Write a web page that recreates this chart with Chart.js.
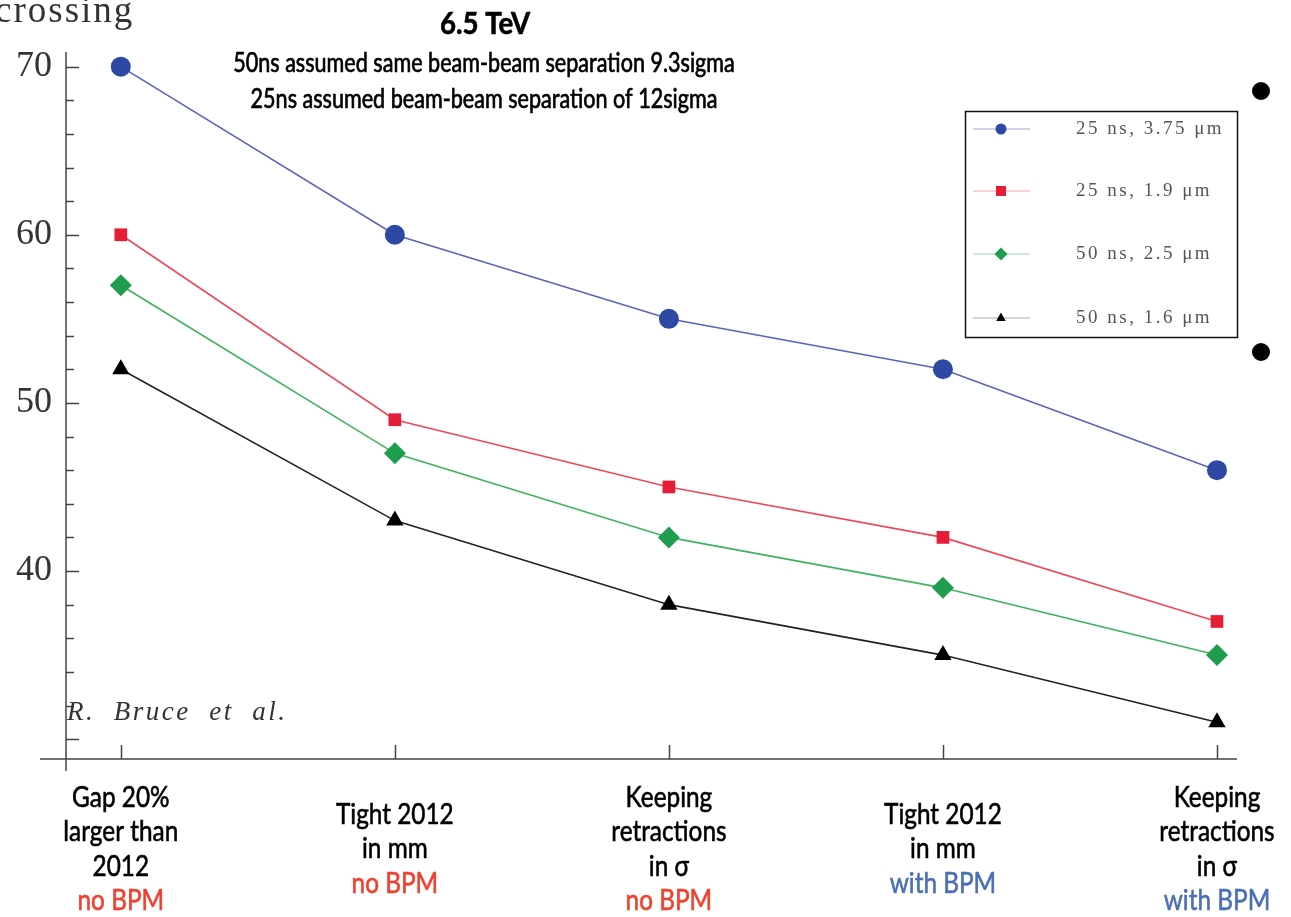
<!DOCTYPE html>
<html>
<head>
<meta charset="utf-8">
<script src="https://cdn.jsdelivr.net/npm/chart.js@4.4.1/dist/chart.umd.min.js"></script>
<style>
  html, body { margin: 0; padding: 0; background: #fff; }
  #wrap { width: 1291px; height: 917px; }
</style>
</head>
<body>
<div id="wrap"><canvas id="pileupChart" width="1291" height="917"></canvas></div>
<script>
// kategori (sumbu x) - baris hitam + catatan berwarna
var categoryLines = [
    ['Gap 20%', 'larger than', '2012'],
    ['Tight 2012', 'in mm'],
    ['Keeping', 'retractions', 'in σ'],
    ['Tight 2012', 'in mm'],
    ['Keeping', 'retractions', 'in σ']
];
var categoryNotes = ['no BPM', 'no BPM', 'no BPM', 'with BPM', 'with BPM'];

// nilai tiap seri
var seriesLabels = ['25 ns, 3.75 μm', '25 ns, 1.9 μm', '50 ns, 2.5 μm', '50 ns, 1.6 μm'];
var blueValues  = [70, 60, 55, 52, 46];
var redValues   = [60, 49, 45, 42, 37];
var greenValues = [57, 47, 42, 39, 35];
var blackValues = [52, 43, 38, 35, 31];

var yTickLabels = [40, 50, 60, 70];

var titleLines = ['6.5 TeV', '50ns assumed same beam-beam separation 9.3sigma', '25ns assumed beam-beam separation of 12sigma'];

function toPoints(values) {
    return values.map(function (v, i) { return { x: i, y: v }; });
}

var styles = [
    { line: '#5a64bd', fill: '#2d49a4', pt: 'circle', r: 10, legendLine: '#a3a8dc' },
    { line: '#ec4a5a', fill: '#e51d37', pt: 'rect', r: 9, legendLine: '#f5a5ad' },
    { line: '#3db35e', fill: '#1f9d4f', pt: 'rectRot', r: 11, legendLine: '#9ad8a8' },
    { line: '#222222', fill: '#000000', pt: 'triangle', r: 10, legendLine: '#aaaaaa' }
];
var allValues = [blueValues, redValues, greenValues, blackValues];

var datasets = allValues.map(function (vals, i) {
    var s = styles[i];
    return {
        label: seriesLabels[i],
        data: toPoints(vals),
        borderColor: s.line,
        borderWidth: 1.6,
        backgroundColor: s.fill,
        pointBackgroundColor: s.fill,
        pointBorderColor: s.fill,
        pointBorderWidth: 0,
        pointStyle: s.pt,
        pointRadius: s.r,
        tension: 0,
        clip: false
    };
});

function drawMarker(ctx, style, x, y, r, color) {
    ctx.fillStyle = color;
    ctx.beginPath();
    if (style === 'circle') {
        ctx.arc(x, y, r, 0, Math.PI * 2);
    } else if (style === 'rect') {
        ctx.rect(x - r, y - r, r * 2, r * 2);
    } else if (style === 'rectRot') {
        ctx.moveTo(x, y - r); ctx.lineTo(x + r, y); ctx.lineTo(x, y + r); ctx.lineTo(x - r, y);
    } else {
        ctx.moveTo(x, y - r); ctx.lineTo(x + r * 0.87, y + r * 0.55); ctx.lineTo(x - r * 0.87, y + r * 0.55);
    }
    ctx.closePath();
    ctx.fill();
}

// teks dengan skala horizontal (huruf lebih sempit) + sedikit tebal
function narrowText(ctx, text, x, y, sx, weight) {
    ctx.save();
    ctx.translate(x, y);
    ctx.scale(sx, 1);
    ctx.fillText(text, 0, 0);
    if (weight) {
        ctx.strokeStyle = ctx.fillStyle;
        ctx.lineWidth = weight;
        ctx.strokeText(text, 0, 0);
    }
    ctx.restore();
}

// sumbu, tick ke dalam, judul, label kategori, legenda
var overlay = {
    id: 'overlay',
    beforeDatasetsDraw: function (chart) {
        var ctx = chart.ctx, xs = chart.scales.x, ys = chart.scales.y, a = chart.chartArea;
        ctx.save();
        ctx.strokeStyle = '#444';
        ctx.lineWidth = 1.5;
        ctx.beginPath();
        ctx.moveTo(40, a.bottom); ctx.lineTo(a.right, a.bottom);
        ctx.moveTo(a.left, a.top); ctx.lineTo(a.left, a.bottom + 12);
        for (var v = 30; v <= 70; v += 2) {
            var py = Math.round(ys.getPixelForValue(v)) + 0.5;
            ctx.moveTo(a.left, py);
            ctx.lineTo(a.left + (v % 10 === 0 ? 13 : 8), py);
        }
        for (var i = 0; i < categoryLines.length; i++) {
            var px = Math.round(xs.getPixelForValue(i)) + 0.5;
            ctx.moveTo(px, a.bottom); ctx.lineTo(px, a.bottom - 14);
        }
        ctx.stroke();
        ctx.restore();
    },
    afterDraw: function (chart) {
        var ctx = chart.ctx, xs = chart.scales.x;
        ctx.save();
        // judul sumbu y (terpotong)
        ctx.fillStyle = '#333';
        ctx.font = '37px "Liberation Serif"';
        ctx.letterSpacing = '2px';
        ctx.textAlign = 'left';
        ctx.textBaseline = 'alphabetic';
        ctx.fillText('crossing', -5, 22);

        // R. Bruce et al.
        ctx.font = 'italic 27px "Liberation Serif"';
        ctx.letterSpacing = '2.5px';
        ctx.fillText('R.  Bruce  et  al.', 67, 720);
        ctx.letterSpacing = '0px';

        // judul
        ctx.fillStyle = '#000';
        ctx.textAlign = 'center';
        ctx.textBaseline = 'middle';
        ctx.font = 'bold 30px Lato';
        narrowText(ctx, titleLines[0], 485, 24, 0.92, 0.6);
        ctx.font = '26px Lato';
        narrowText(ctx, titleLines[1], 484, 64, 0.83, 0.7);
        narrowText(ctx, titleLines[2], 484, 100, 0.83, 0.7);

        // label kategori
        ctx.font = '29px Lato';
        for (var i = 0; i < categoryLines.length; i++) {
            var cx = xs.getPixelForValue(i);
            var lines = categoryLines[i];
            var n = lines.length + 1;
            var y0 = 849 - (n - 1) / 2 * 34.5;
            ctx.fillStyle = '#000';
            for (var k = 0; k < lines.length; k++) {
                narrowText(ctx, lines[k], cx, y0 + k * 34.5, 0.84, 0.6);
            }
            ctx.fillStyle = categoryNotes[i] === 'no BPM' ? '#f0412f' : '#4a6fb8';
            narrowText(ctx, categoryNotes[i], cx, y0 + lines.length * 34.5, 0.84, 0.6);
        }

        // legenda
        ctx.strokeStyle = '#111';
        ctx.lineWidth = 1.5;
        ctx.strokeRect(965.5, 111.5, 272, 226);
        var ly = [129, 191, 254, 318];
        ctx.textAlign = 'left';
        ctx.font = '19px "Liberation Serif"';
        for (var j = 0; j < seriesLabels.length; j++) {
            var s = styles[j];
            ctx.strokeStyle = s.legendLine;
            ctx.lineWidth = 1.2;
            ctx.beginPath();
            ctx.moveTo(973, ly[j]); ctx.lineTo(1030, ly[j]);
            ctx.stroke();
            drawMarker(ctx, s.pt, 1001, ly[j], s.pt === 'rect' ? 5 : (s.pt === 'rectRot' ? 6.5 : 5.5), s.fill);
            ctx.fillStyle = '#555';
            ctx.letterSpacing = '2.5px';
            ctx.fillText(seriesLabels[j], 1076, ly[j]);
            ctx.letterSpacing = '0px';
        }

        // titik hitam di kanan
        ctx.fillStyle = '#000';
        ctx.beginPath(); ctx.arc(1261, 91, 9, 0, Math.PI * 2); ctx.fill();
        ctx.beginPath(); ctx.arc(1261, 352, 9, 0, Math.PI * 2); ctx.fill();
        ctx.restore();
    }
};

var pileupChart = new Chart(document.getElementById('pileupChart'), {
    type: 'line',
    data: { datasets: datasets },
    options: {
        responsive: false,
        animation: false,
        layout: { padding: { top: 52, bottom: 158, right: 54, left: 0 } },
        plugins: {
            legend: { display: false },
            tooltip: { enabled: false }
        },
        scales: {
            x: {
                type: 'linear',
                display: false,
                min: -0.2,
                max: 4.073
            },
            y: {
                type: 'linear',
                min: 28.82,
                max: 70.87,
                afterFit: function (scale) { scale.width = 66; },
                afterBuildTicks: function (scale) {
                    scale.ticks = yTickLabels.map(function (v) { return { value: v }; });
                },
                grid: { display: false, drawTicks: false },
                border: { display: false },
                ticks: {
                    padding: 14,
                    color: '#333',
                    font: { family: '"Liberation Serif"', size: 36 }
                }
            }
        }
    },
    plugins: [overlay]
});
</script>
</body>
</html>
